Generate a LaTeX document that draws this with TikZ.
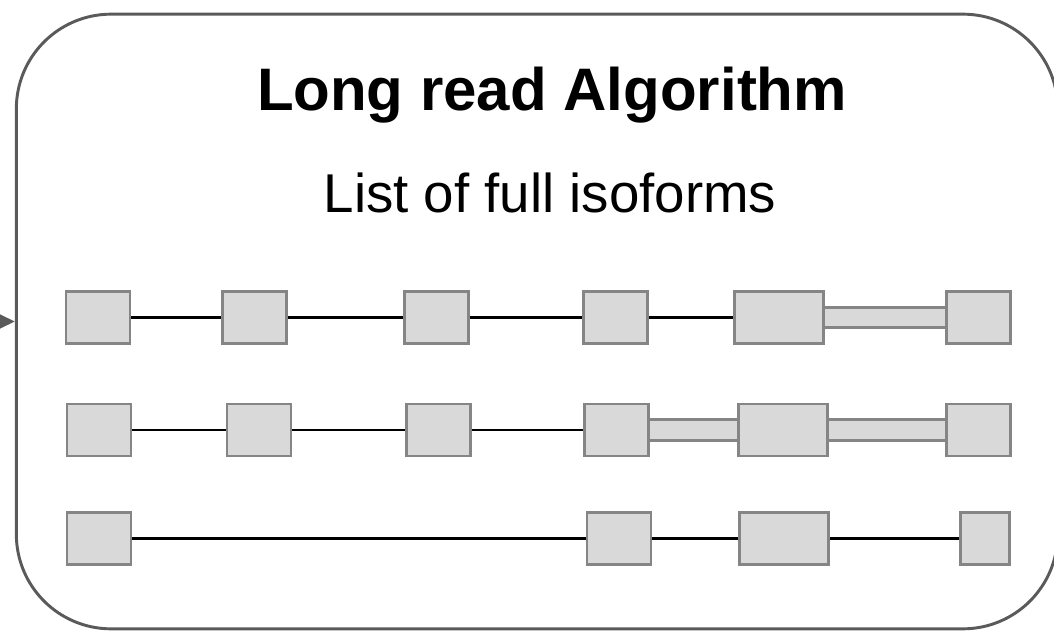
\documentclass[tikz,border=0pt]{standalone}
\usepackage{fontspec}
\setmainfont{Liberation Sans}
\usepackage{tikz}
\usetikzlibrary{positioning,arrows.meta,backgrounds}
\definecolor{exonfill}{HTML}{D9D9D9}
\definecolor{exonline}{HTML}{858585}
\definecolor{framecolor}{HTML}{5A5A5A}

\begin{document}
\begin{tikzpicture}[
    x=0.75pt, y=-0.75pt,
    frame/.style={draw=framecolor, line width=2.2pt, rounded corners=71pt, minimum width=781pt, minimum height=461pt, inner sep=0pt},
    exon/.style={draw=exonline, fill=exonfill, line width=2.2pt, minimum width=48pt, minimum height=39pt, inner sep=0pt},
    wideexon/.style={exon, minimum width=67pt},
    intron/.style={draw=black, line width=2pt},
    utr/.style={draw=exonline, line width=2.2pt, double=exonfill, double distance=13pt},
  ]
  \useasboundingbox (0,0) rectangle (1054,631);
  \node[frame] (box) at (537,321.5) {};
  \coordinate (feed) at (-40,321.5);
  \draw[framecolor, line width=2pt, -{Triangle[length=11pt,width=10pt]}] (feed) -- (box.west);

  \node[font=\bfseries\fontsize{45}{54}\selectfont, anchor=base] (title) at (552,111) {Long read Algorithm};
  \node[font=\fontsize{41}{49}\selectfont, anchor=base] (subtitle) at (550,213) {List of full isoforms};

  % isoform 1
  \node[exon] (e11) at (98,317.5) {};
  \node[exon] (e12) at (254.5,317.5) {};
  \node[exon] (e13) at (436.5,317.5) {};
  \node[exon] (e14) at (615.5,317.5) {};
  \node[wideexon] (e15) at (779,317.5) {};
  \node[exon] (e16) at (978.5,317.5) {};
  % isoform 2
  \node[exon] (e21) at (99,430) {};
  \node[exon] (e22) at (259,430) {};
  \node[exon] (e23) at (438.5,430) {};
  \node[exon] (e24) at (616.5,430) {};
  \node[wideexon] (e25) at (783,430) {};
  \node[exon] (e26) at (978.5,430) {};
  % isoform 3
  \node[exon] (e31) at (99,538.5) {};
  \node[exon] (e34) at (619,538.5) {};
  \node[wideexon] (e35) at (784,538.5) {};
  \node[exon, minimum width=37pt] (e36) at (985,538.5) {};

  \begin{scope}[on background layer]
    \draw[intron] (e11) -- (e12) (e12) -- (e13) (e13) -- (e14) (e14) -- (e15);
    \draw[utr] (e15) -- (e16);
    \draw[intron] (e21) -- (e22) (e22) -- (e23) (e23) -- (e24);
    \draw[utr] (e24) -- (e25);
    \draw[utr] (e25) -- (e26);
    \draw[intron] (e31) -- (e34) (e34) -- (e35) (e35) -- (e36);
  \end{scope}
\end{tikzpicture}
\end{document}
